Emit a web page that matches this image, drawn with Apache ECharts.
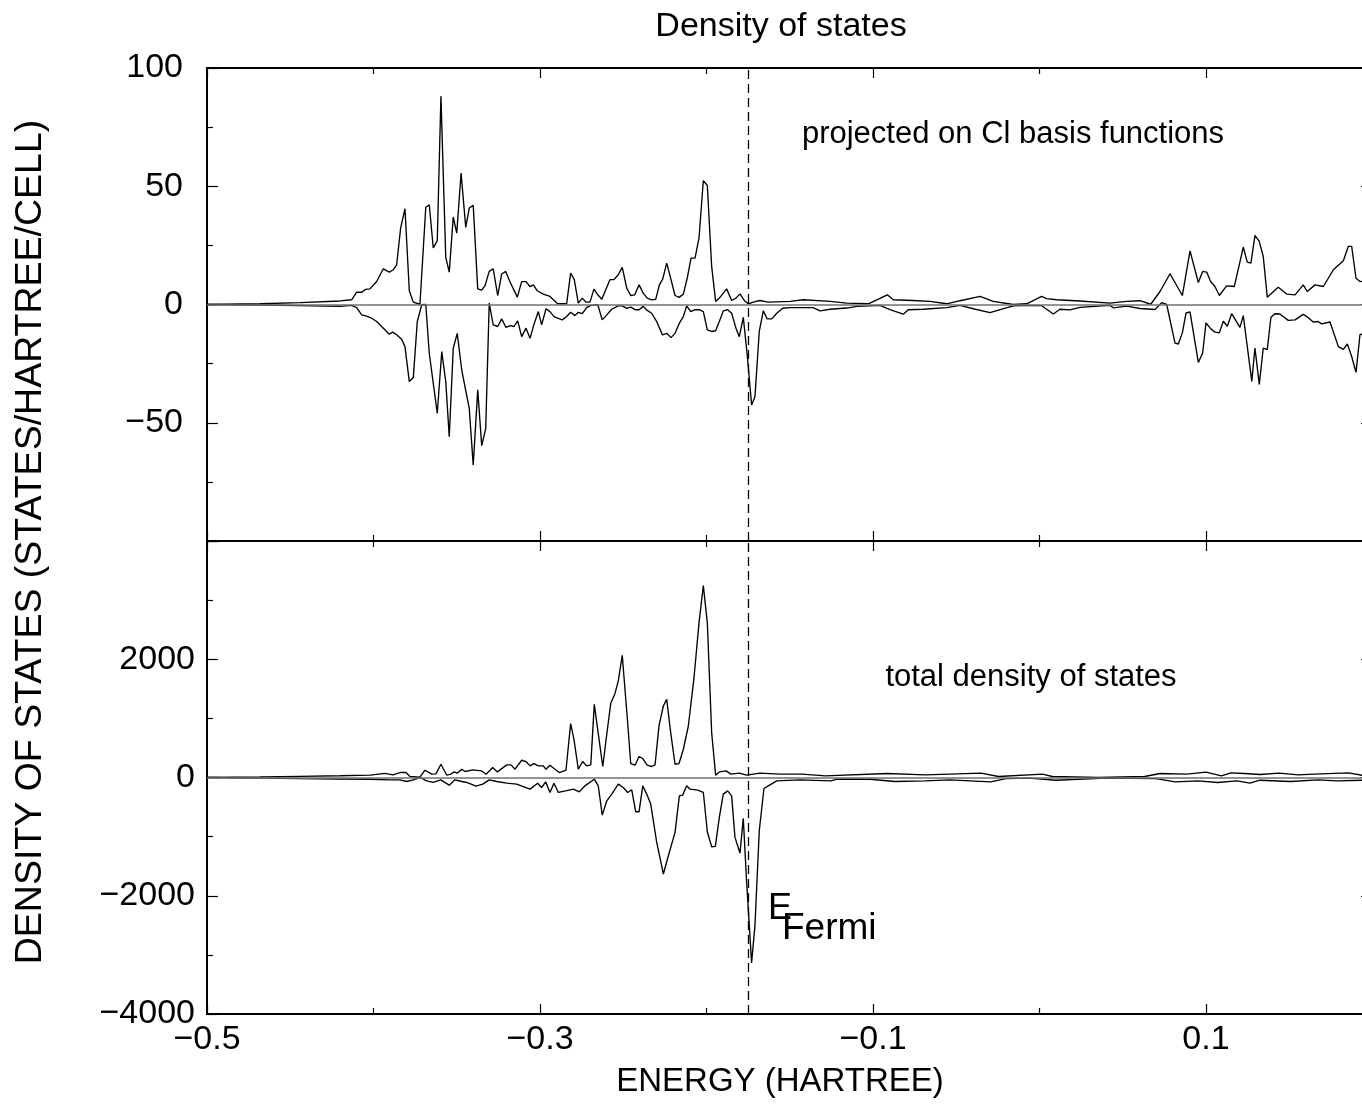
<!DOCTYPE html>
<html>
<head>
<meta charset="utf-8">
<script src="https://cdn.jsdelivr.net/npm/echarts@6/dist/echarts.min.js"></script>
<style>html,body{margin:0;padding:0;background:#fff}#c{width:1362px;height:1109px}</style>
</head>
<body>
<div id="c"></div>
<script>
// ---- data: [energy (hartree), density of states] ----
const projUp = [[-0.5,0],[-0.4682,0.3],[-0.4441,0.8],[-0.4201,1.5],[-0.4131,2],[-0.4101,5.2],[-0.4071,5.2],[-0.4047,6.4],[-0.4021,6.6],[-0.3981,9.7],[-0.3941,15.1],[-0.3905,13.7],[-0.3881,14.7],[-0.3861,16.8],[-0.3837,32.3],[-0.3811,40.5],[-0.3785,5.8],[-0.3761,1],[-0.3721,0.1],[-0.3686,41.1],[-0.3665,42.2],[-0.3641,23.9],[-0.3617,27],[-0.3595,88.1],[-0.3566,19.9],[-0.3545,13.7],[-0.3521,37],[-0.35,30.2],[-0.3474,55.6],[-0.3446,32.6],[-0.3425,40.8],[-0.3401,41.9],[-0.3374,6.6],[-0.335,6.1],[-0.333,8],[-0.3305,14],[-0.3281,15.1],[-0.3254,3.8],[-0.323,12.9],[-0.3206,14],[-0.318,9.5],[-0.3136,3.1],[-0.311,9.7],[-0.3084,9.7],[-0.306,7.6],[-0.304,8.3],[-0.3016,5.8],[-0.298,4.4],[-0.294,3.4],[-0.2894,0.3],[-0.284,0.3],[-0.2816,13.3],[-0.2794,10.5],[-0.277,0.6],[-0.2746,2.7],[-0.2724,1],[-0.27,1],[-0.2676,6.5],[-0.2653,4.1],[-0.2629,2.2],[-0.258,10.5],[-0.2556,10.5],[-0.253,12.6],[-0.2506,15.7],[-0.2479,6.9],[-0.2455,3.8],[-0.2431,4.1],[-0.2405,8.3],[-0.238,4.8],[-0.2356,2.7],[-0.2329,2],[-0.2305,2.2],[-0.2283,8.3],[-0.2263,10.7],[-0.2239,17.5],[-0.2213,10.5],[-0.2189,3.8],[-0.2165,3],[-0.2139,4.4],[-0.2115,11.4],[-0.2093,19.6],[-0.2069,19.6],[-0.2045,28.1],[-0.2019,52.4],[-0.1995,50.3],[-0.1969,16.1],[-0.1945,1.3],[-0.1923,2.7],[-0.1899,4.8],[-0.1879,6.6],[-0.1849,1.7],[-0.1823,2.7],[-0.1799,4.5],[-0.1773,1.7],[-0.1749,0.3],[-0.1719,1],[-0.1679,1.7],[-0.1629,1],[-0.1498,1.3],[-0.1419,2],[-0.1258,1.3],[-0.1158,0.6],[-0.1028,0.3],[-0.0914,4.1],[-0.0878,2],[-0.076,1.7],[-0.0658,1.3],[-0.0557,0.3],[-0.0477,1.6],[-0.0357,3.4],[-0.0278,1.3],[-0.0157,0],[-0.0077,0.3],[0.0013,3.4],[0.0043,2.5],[0.0103,2],[0.0243,1.5],[0.0423,0.6],[0.0524,1.3],[0.0604,1.6],[0.0668,0.1],[0.0724,5.5],[0.0784,13],[0.0858,3.8],[0.0904,22.7],[0.0954,9.3],[0.098,14],[0.1004,13.7],[0.1028,9.7],[0.1054,7.6],[0.108,3.8],[0.1124,7.9],[0.117,7.6],[0.1224,24.3],[0.1248,17.9],[0.127,17.5],[0.1294,29.2],[0.132,26.7],[0.1344,20.3],[0.1368,3.1],[0.1434,7.3],[0.1485,4.4],[0.1535,4.1],[0.1584,8.3],[0.1608,5.5],[0.1655,8.3],[0.1705,7.6],[0.1765,14.7],[0.1825,18.5],[0.1855,24.6],[0.1875,24.6],[0.1901,11.1],[0.1925,9.7],[0.2,10]];

const projDown = [[-0.5,0],[-0.4682,-0.2],[-0.4441,-0.5],[-0.4201,-0.8],[-0.4131,-0.4],[-0.4101,-1.3],[-0.4071,-4.4],[-0.4047,-4.8],[-0.4011,-5.8],[-0.3981,-7.2],[-0.3945,-9.7],[-0.3905,-12.6],[-0.3885,-11.7],[-0.3861,-12.8],[-0.3831,-14.7],[-0.3811,-17.8],[-0.3785,-32.6],[-0.3761,-30.9],[-0.3737,-7.2],[-0.371,-0.1],[-0.3686,0],[-0.3665,-20.6],[-0.3617,-46],[-0.359,-19.9],[-0.3566,-32.6],[-0.3545,-55.9],[-0.3521,-18.5],[-0.3497,-12.2],[-0.347,-27.7],[-0.3425,-43.9],[-0.3401,-67.9],[-0.3374,-36.1],[-0.335,-59.7],[-0.3326,-52.4],[-0.3305,0.6],[-0.3281,-8.6],[-0.3254,-9.3],[-0.323,-6.1],[-0.3204,-9.7],[-0.318,-8.9],[-0.3156,-9.3],[-0.3134,-6.9],[-0.311,-13.6],[-0.3084,-10],[-0.306,-14.3],[-0.3034,-7.9],[-0.301,-3],[-0.299,-8.6],[-0.2964,-1.8],[-0.294,-3],[-0.2916,-5.1],[-0.2894,-5.8],[-0.2866,-6.5],[-0.284,-5.1],[-0.2816,-3.3],[-0.279,-4.7],[-0.277,-3.3],[-0.2746,-3.9],[-0.272,-1.3],[-0.2695,-0.4],[-0.2653,-0.1],[-0.2626,-6.5],[-0.2599,-4.4],[-0.2569,-2],[-0.253,-0.6],[-0.2506,-0.6],[-0.2479,-1.6],[-0.2455,-1.1],[-0.2429,-2.2],[-0.2405,-2.2],[-0.238,-0.8],[-0.2356,-2.5],[-0.2329,-3.7],[-0.2299,-7.2],[-0.2265,-12.8],[-0.2239,-12.2],[-0.2213,-14],[-0.2189,-12.2],[-0.2163,-7.9],[-0.2139,-5.1],[-0.2119,-0.6],[-0.2095,-3],[-0.2069,-2.2],[-0.2043,-2.2],[-0.2019,-3],[-0.1995,-10.7],[-0.1969,-11.4],[-0.1945,-11.1],[-0.1923,-7.2],[-0.1899,-2.7],[-0.1873,-2.2],[-0.1849,-3.7],[-0.1823,-10],[-0.1803,-13.6],[-0.1779,-5.4],[-0.1755,-21.6],[-0.1729,-42.5],[-0.1709,-39],[-0.1683,-11.4],[-0.1659,-2.7],[-0.1635,-6.1],[-0.1608,-6.1],[-0.1578,-3.7],[-0.1542,-1.6],[-0.1498,-1.3],[-0.1438,-1.3],[-0.1359,-1.3],[-0.1318,-2.7],[-0.1258,-2],[-0.1158,-1.5],[-0.1098,-0.8],[-0.1018,-0.6],[-0.0958,-0.4],[-0.0898,-2.2],[-0.0818,-4.1],[-0.0788,-2.2],[-0.0698,-2],[-0.0557,-1.3],[-0.0477,-0.4],[-0.0398,-1.8],[-0.0297,-3.4],[-0.0237,-2.2],[-0.0157,-0.6],[-0.0037,-0.4],[0.0013,-0.5],[0.0083,-4],[0.0123,-2],[0.0183,-2.3],[0.0243,-1.2],[0.0423,-0.3],[0.0443,-1.4],[0.0524,-0.7],[0.0604,-1.7],[0.0694,-2.1],[0.0734,0.8],[0.0764,0],[0.0814,-16.3],[0.0834,-16.7],[0.0858,-12],[0.088,-3.6],[0.0904,-3.1],[0.0954,-24.5],[0.098,-20.5],[0.1,-7.8],[0.1028,-10.2],[0.1054,-11.7],[0.108,-12],[0.1104,-7.1],[0.1128,-9.2],[0.1154,-3.9],[0.1204,-9.7],[0.1224,-4.7],[0.1275,-32.5],[0.1294,-18.4],[0.132,-33.8],[0.1344,-18.4],[0.1368,-19.1],[0.139,-5.4],[0.1414,-3.9],[0.1444,-4],[0.1494,-6.7],[0.1535,-6.5],[0.1584,-4.2],[0.1613,-5.5],[0.1644,-7.4],[0.1673,-7.2],[0.1695,-8.2],[0.1745,-7.4],[0.1795,-17.8],[0.1825,-19],[0.1849,-16.7],[0.1875,-22],[0.1901,-28.7],[0.1925,-12.7],[0.2,-12]];

const totalUp = [[-0.5,0],[-0.4682,10],[-0.4441,20],[-0.4201,30],[-0.4021,40],[-0.3931,70],[-0.3883,45],[-0.3841,84],[-0.3805,84],[-0.3781,17],[-0.3721,5],[-0.3691,123],[-0.365,56],[-0.3625,61],[-0.3595,224],[-0.356,39],[-0.3536,56],[-0.3515,95],[-0.3497,73],[-0.347,140],[-0.345,101],[-0.3404,128],[-0.335,111],[-0.3324,56],[-0.3284,169],[-0.3256,95],[-0.32,213],[-0.3174,213],[-0.315,140],[-0.311,292],[-0.3084,270],[-0.306,196],[-0.3036,236],[-0.301,196],[-0.298,196],[-0.2964,140],[-0.294,208],[-0.291,140],[-0.2884,84],[-0.2844,123],[-0.2816,911],[-0.2796,646],[-0.277,140],[-0.2744,270],[-0.272,196],[-0.2695,213],[-0.2674,1237],[-0.265,743],[-0.2623,186],[-0.2599,731],[-0.2575,1254],[-0.255,1418],[-0.253,1631],[-0.2506,2065],[-0.2479,1124],[-0.2455,236],[-0.2429,208],[-0.2405,354],[-0.2383,321],[-0.2356,208],[-0.2329,186],[-0.2309,213],[-0.2285,883],[-0.2259,1209],[-0.2239,1322],[-0.2215,760],[-0.2189,224],[-0.2165,236],[-0.2139,478],[-0.2109,871],[-0.2075,1688],[-0.2045,2616],[-0.2019,3246],[-0.1995,2616],[-0.1969,760],[-0.1945,39],[-0.1923,95],[-0.1883,111],[-0.1853,56],[-0.1803,73],[-0.1759,39],[-0.1679,73],[-0.1559,56],[-0.1425,56],[-0.1286,28],[-0.0916,68],[-0.0685,45],[-0.0351,73],[-0.0246,17],[0.0019,56],[0.0077,17],[0.0354,0],[0.0631,17],[0.0724,68],[0.0885,56],[0.1,90],[0.1093,28],[0.115,78],[0.1232,68],[0.1324,51],[0.1438,73],[0.1556,45],[0.1647,56],[0.1856,78],[0.1943,34],[0.2,40]];

const totalDown = [[-0.5,0],[-0.4682,-10],[-0.4441,-20],[-0.4201,-25],[-0.4021,-30],[-0.3901,-40],[-0.3841,-40],[-0.3801,-68],[-0.3761,-40],[-0.3721,0],[-0.368,-57],[-0.3641,-84],[-0.3596,-40],[-0.3545,-130],[-0.3511,-40],[-0.347,-68],[-0.344,-84],[-0.3384,-147],[-0.3344,-113],[-0.3305,-40],[-0.326,-68],[-0.32,-96],[-0.314,-113],[-0.3104,-152],[-0.306,-197],[-0.3014,-96],[-0.299,-169],[-0.2966,-74],[-0.294,-253],[-0.2916,-96],[-0.289,-253],[-0.2846,-226],[-0.28,-197],[-0.2764,-243],[-0.273,-141],[-0.2674,-29],[-0.265,-141],[-0.2626,-636],[-0.2599,-394],[-0.2569,-281],[-0.253,-113],[-0.25,-169],[-0.2473,-253],[-0.2449,-208],[-0.2425,-580],[-0.2405,-580],[-0.2383,-141],[-0.2359,-281],[-0.2335,-450],[-0.2299,-1097],[-0.2259,-1632],[-0.2229,-1323],[-0.2189,-928],[-0.2163,-310],[-0.2143,-298],[-0.2119,-141],[-0.2099,-197],[-0.2053,-214],[-0.2019,-253],[-0.1995,-918],[-0.1969,-1171],[-0.1947,-1165],[-0.1923,-675],[-0.1899,-281],[-0.1873,-226],[-0.1849,-310],[-0.1829,-1013],[-0.1799,-1278],[-0.1779,-692],[-0.1759,-1772],[-0.1729,-3135],[-0.1709,-2505],[-0.1683,-901],[-0.1655,-186],[-0.1629,-141],[-0.1578,-57],[-0.1438,-40],[-0.1252,-57],[-0.1216,-29],[-0.1018,-29],[-0.087,-68],[-0.0688,-57],[-0.0538,-40],[-0.0293,-74],[-0.0201,-20],[-0.0063,-10],[0.0099,-46],[0.0399,-10],[0.07,-20],[0.0814,-74],[0.0952,-57],[0.107,-84],[0.1186,-57],[0.1264,-96],[0.1324,-46],[0.1509,-68],[0.1671,-40],[0.1787,-57],[0.1943,-46],[0.2,-50]];

const eFermi = -0.175;

// axis range (the page cuts the plot off just before 0.2)
const xMin = -0.5;
const xMax = 0.1937;

// ticks and labels
const xMajor = [-0.5, -0.3, -0.1, 0.1];
const xMinor = [-0.4, -0.2, 0];
const xLabels = [-0.5, -0.3, -0.1, 0.1];
const yTopMajor = [-100, -50, 0, 50, 100];
const yTopMinor = [-75, -25, 25, 75];
const yTopLabels = [-50, 0, 50, 100];
const yBotMajor = [-4000, -2000, 0, 2000, 4000];
const yBotMinor = [-3000, -1000, 1000, 3000];
const yBotLabels = [-4000, -2000, 0, 2000];

const FONT = '"Liberation Sans", Arial, Helvetica, sans-serif';
const FS = 34;
const fmt = v => String(v).replace('-', '\u2212');

function xAx(gi, pos, ticks, len, line, labels) {
  return {
    type: 'value', gridIndex: gi, position: pos, min: xMin, max: xMax, interval: 0.1,
    axisLine: { show: line, onZero: false, lineStyle: { color: '#000', width: 2 } },
    axisTick: { show: true, inside: true, length: len, customValues: ticks, lineStyle: { color: '#000', width: 1.2 } },
    axisLabel: labels ? { show: true, customValues: labels, formatter: fmt, fontSize: FS, fontFamily: FONT, color: '#000', margin: 9 } : { show: false },
    splitLine: { show: false }
  };
}
function yAx(gi, pos, min, max, iv, ticks, len, line, labels, margin) {
  return {
    type: 'value', gridIndex: gi, position: pos, min: min, max: max, interval: iv,
    offset: pos === 'right' ? 10 : 0,
    axisLine: { show: line, onZero: false, lineStyle: { color: '#000', width: 2 } },
    axisTick: { show: true, inside: true, length: len, customValues: ticks, lineStyle: { color: '#000', width: 1.2 } },
    axisLabel: labels ? { show: true, customValues: labels, formatter: fmt, fontSize: FS, fontFamily: FONT, color: '#000', margin: margin } : { show: false },
    splitLine: { show: false }
  };
}

const chart = echarts.init(document.getElementById('c'), null, { renderer: 'canvas' });

const lineSeries = (data, xi, yi, extra) => Object.assign({
  type: 'line', data: data, xAxisIndex: xi, yAxisIndex: yi, showSymbol: false, symbol: 'none',
  lineStyle: { color: '#000', width: 1.35 }, animation: false, silent: true, z: 3
}, extra || {});

const zeroLine = { silent: true, symbol: 'none', precision: 6, label: { show: false }, animation: false,
  lineStyle: { color: '#707070', type: 'solid', width: 1.6 }, data: [{ yAxis: 0 }] };
const fermiLine = { silent: true, symbol: 'none', precision: 6, label: { show: false }, animation: false,
  lineStyle: { color: '#000', type: [9, 5], width: 1.3 }, data: [{ xAxis: eFermi }] };

chart.setOption({
  backgroundColor: '#fff',
  animation: false,
  grid: [
    { left: 207, top: 68, right: 0, height: 473 },
    { left: 207, top: 541, right: 0, height: 473 }
  ],
  xAxis: [
    xAx(0, 'bottom', xMajor, 10, true, null),
    xAx(0, 'bottom', xMinor, 6, false, null),
    xAx(0, 'top', xMajor, 10, true, null),
    xAx(0, 'top', xMinor, 6, false, null),
    xAx(1, 'bottom', xMajor, 10, true, xLabels),
    xAx(1, 'bottom', xMinor, 6, false, null),
    xAx(1, 'top', xMajor, 10, true, null),
    xAx(1, 'top', xMinor, 6, false, null)
  ],
  yAxis: [
    yAx(0, 'left', -100, 100, 25, yTopMajor, 11, true, yTopLabels, 24),
    yAx(0, 'left', -100, 100, 25, yTopMinor, 6, false, null),
    yAx(0, 'right', -100, 100, 25, yTopMajor, 11, true, null),
    yAx(0, 'right', -100, 100, 25, yTopMinor, 6, false, null),
    yAx(1, 'left', -4000, 4000, 1000, yBotMajor, 11, true, yBotLabels, 12),
    yAx(1, 'left', -4000, 4000, 1000, yBotMinor, 6, false, null),
    yAx(1, 'right', -4000, 4000, 1000, yBotMajor, 11, true, null),
    yAx(1, 'right', -4000, 4000, 1000, yBotMinor, 6, false, null)
  ],
  series: [
    lineSeries(projUp, 0, 0, { markLine: zeroLine }),
    lineSeries(projDown, 0, 0, { markLine: fermiLine }),
    lineSeries(totalUp, 4, 4, { markLine: zeroLine }),
    lineSeries(totalDown, 4, 4, { markLine: fermiLine })
  ],
  graphic: [
    { type: 'text', x: 781, y: 27, style: { text: 'Density of states', font: '34px ' + FONT, fill: '#000', textAlign: 'center', textVerticalAlign: 'middle' } },
    { type: 'text', x: 31, y: 542, rotation: Math.PI / 2, style: { text: 'DENSITY OF STATES (STATES/HARTREE/CELL)', font: '37.5px ' + FONT, fill: '#000', textAlign: 'center', textVerticalAlign: 'middle' } },
    { type: 'text', x: 780, y: 1082, style: { text: 'ENERGY (HARTREE)', font: '33px ' + FONT, fill: '#000', textAlign: 'center', textVerticalAlign: 'middle' } },
    { type: 'text', x: 1013, y: 134, style: { text: 'projected on Cl basis functions', font: '31px ' + FONT, fill: '#000', textAlign: 'center', textVerticalAlign: 'middle' } },
    { type: 'text', x: 1031, y: 677, style: { text: 'total density of states', font: '31px ' + FONT, fill: '#000', textAlign: 'center', textVerticalAlign: 'middle' } },
    { type: 'text', x: 768, y: 909, style: { text: 'E', font: '36px ' + FONT, fill: '#000', textAlign: 'left', textVerticalAlign: 'middle' } },
    { type: 'text', x: 782, y: 929, style: { text: 'Fermi', font: '37px ' + FONT, fill: '#000', textAlign: 'left', textVerticalAlign: 'middle' } }
  ]
});
</script>
</body>
</html>
